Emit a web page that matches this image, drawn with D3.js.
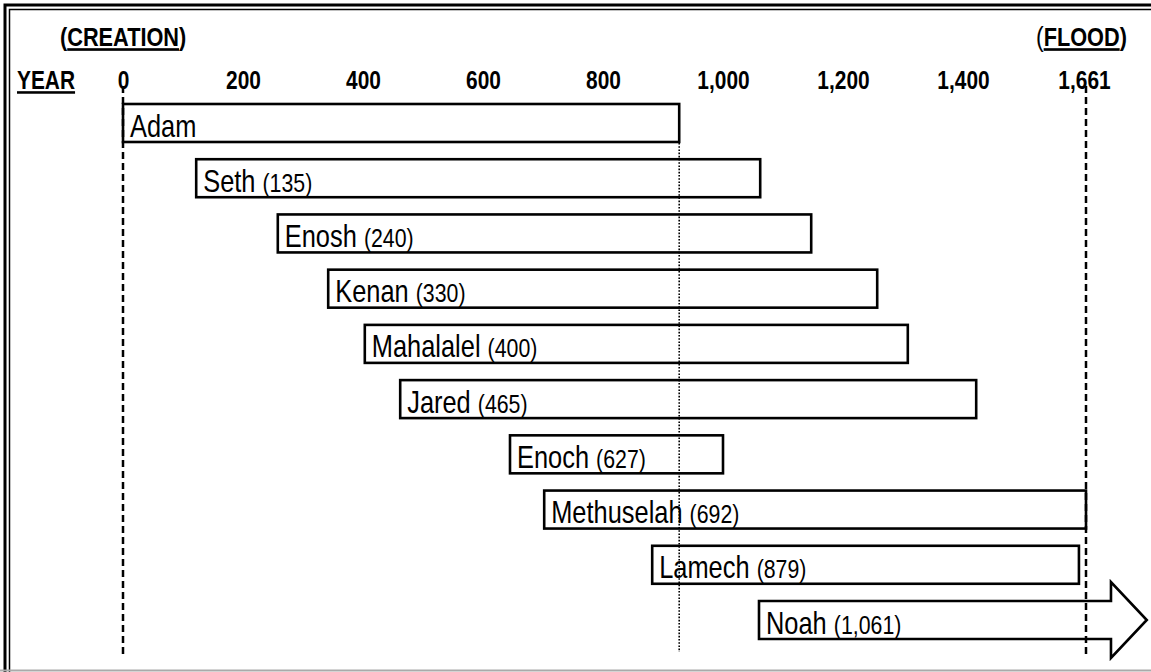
<!DOCTYPE html>
<html><head><meta charset="utf-8">
<script src="https://cdn.jsdelivr.net/npm/d3@7"></script>
<style>body{margin:0;background:#fff}svg{display:block}</style>
</head><body><svg id="c" width="1151" height="672"></svg>
<script>
// ---- data ----
const names = ["Adam","Seth","Enosh","Kenan","Mahalalel","Jared","Enoch","Methuselah","Lamech","Noah"];
const birthYears = [null,135,240,330,400,465,627,692,879,1061];      // numbers printed in labels
const barStart = [0,122,258,342,403,462,645,702,882,1060];            // drawn start positions (axis years)
const barEnd   = [927,1062,1147,1257,1308,1428,1000,1661,1646,1714];  // drawn end positions (axis years)
const noahArrowTip = 1790;
const tickYears = [0,200,400,600,800,1000,1200,1400,1661];
const creationYear = 0, floodYear = 1661, adamDeathYear = 927;

const W = 1151, H = 672;
const svg = d3.select("#c");

function fontAvailable(f){
  const ctx = document.createElement("canvas").getContext("2d");
  const s = "Mahalalel (1,061) WMW";
  ctx.font = "40px monospace"; const a = ctx.measureText(s).width;
  ctx.font = `40px "${f}", monospace`; const b = ctx.measureText(s).width;
  return Math.abs(a-b) > 0.5;
}
const narrow = fontAvailable("Liberation Sans Narrow");
const FAM = narrow ? '"Liberation Sans Narrow","Arial Narrow",sans-serif' : '"Liberation Sans",Arial,sans-serif';
const SX = narrow ? 1 : 0.82;

const x = d3.scaleLinear().domain([0,1400,1661]).range([123,963,1086]);
const y = d3.scaleBand().domain(names).range([104,639]).paddingInner(0.312).paddingOuter(0);
const bw = y.bandwidth();

// ---- frame ----
svg.append("rect").attr("width",W).attr("height",H).attr("fill","#fff");
svg.append("path").attr("d",`M5,${H} V5 H${W}`).attr("fill","none").attr("stroke","#000").attr("stroke-width",3);
svg.append("path").attr("d",`M9.5,${H} V9.5 H${W}`).attr("fill","none").attr("stroke","#000").attr("stroke-width",1.5);
svg.append("line").attr("x1",0).attr("x2",W).attr("y1",670.5).attr("y2",670.5).attr("stroke","#aaa").attr("stroke-width",2);

// ---- header texts ----
function txt(g, px, py, anchor){
  return g.append("text").attr("transform",`translate(${px},${py}) scale(${SX},1)`)
    .attr("text-anchor",anchor||"start").attr("font-family",FAM);
}
const cr = txt(svg, 60, 46).attr("font-size",26.5).attr("font-weight","bold");
cr.append("tspan").text("(");
cr.append("tspan").text("CREATION").attr("text-decoration","underline");
cr.append("tspan").text(")");
const fl = txt(svg, 1036, 46).attr("font-size",26.5).attr("font-weight","bold");
fl.append("tspan").text("(").attr("font-weight","normal").attr("font-size",28);
fl.append("tspan").text("FLOOD").attr("text-decoration","underline");
fl.append("tspan").text(")");
txt(svg, 17, 89).attr("font-size",25.5).attr("font-weight","bold")
  .append("tspan").text("YEAR").attr("text-decoration","underline");

// ---- axis ----
const ax = svg.append("g").attr("transform","translate(0,89)")
  .call(d3.axisTop(x).tickValues(tickYears).tickFormat(d3.format(",")).tickSize(0).tickPadding(0));
ax.select(".domain").remove();
ax.selectAll("text").attr("font-family",FAM).attr("font-size",25.5).attr("font-weight","bold")
  .attr("fill","#000").attr("dy","0").attr("y",0)
  .attr("transform",d => `translate(${d===floodYear?-2:0},0) scale(${SX},1)`);

// ---- bars ----
const rows = names.map((n,i)=>({name:n, birth:birthYears[i], s:barStart[i], e:barEnd[i]}));
const bars = svg.append("g");
rows.forEach(d=>{
  if(d.name === "Noah"){
    const x0 = x(d.s), x1 = x(d.e), xt = x(noahArrowTip), t = y(d.name), b = t + bw, m = t + bw/2, ext = 19;
    bars.append("path")
      .attr("d",`M${x0},${t} H${x1} V${t-ext} L${xt},${m} L${x1},${b+ext} V${b} H${x0} Z`)
      .attr("fill","#fff").attr("stroke","#000").attr("stroke-width",2.6).attr("stroke-linejoin","miter");
  } else {
    bars.append("rect").attr("x",x(d.s)).attr("y",y(d.name)).attr("width",x(d.e)-x(d.s)).attr("height",bw)
      .attr("fill","#fff").attr("stroke","#000").attr("stroke-width",2.6);
  }
  const t = txt(bars, x(d.s)+7, y(d.name)+32.5).attr("fill","#000");
  t.append("tspan").text(d.name).attr("font-size",31);
  if(d.birth !== null){
    t.append("tspan").text(" ").attr("font-size",31);
    t.append("tspan").text(`(${d3.format(",")(d.birth)})`).attr("font-size",26);
  }
});

// ---- reference lines ----
svg.append("line").attr("x1",x(creationYear)).attr("x2",x(creationYear)).attr("y1",86).attr("y2",655)
  .attr("stroke","#000").attr("stroke-width",2.5).attr("stroke-dasharray","7,4");
svg.append("line").attr("x1",x(floodYear)).attr("x2",x(floodYear)).attr("y1",86).attr("y2",658)
  .attr("stroke","#000").attr("stroke-width",2.5).attr("stroke-dasharray","7,4");
svg.append("line").attr("x1",x(adamDeathYear)).attr("x2",x(adamDeathYear)).attr("y1",143).attr("y2",652)
  .attr("stroke","#000").attr("stroke-width",1.6).attr("stroke-dasharray","1.6,1.6");
</script></body></html>
